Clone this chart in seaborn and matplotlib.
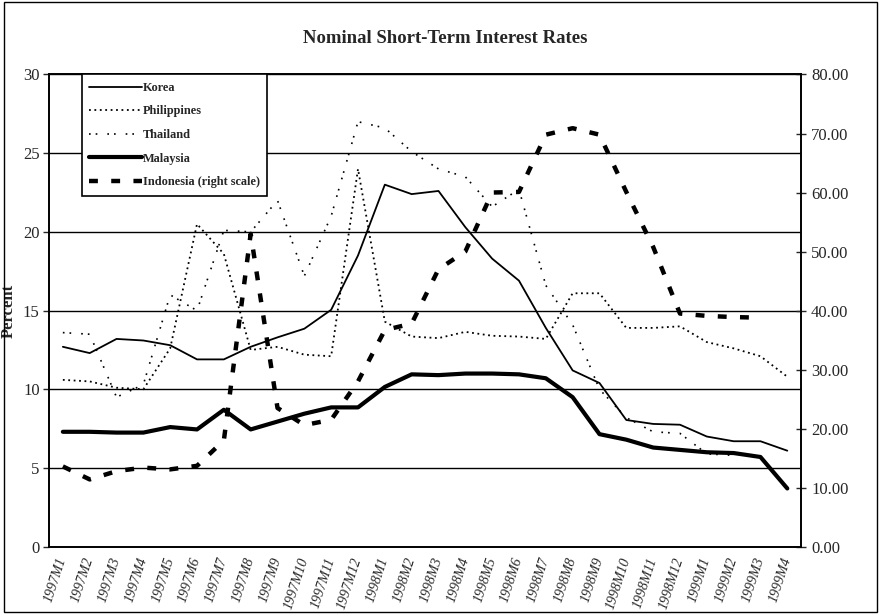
import numpy as np
import matplotlib
matplotlib.use("Agg")
import matplotlib.pyplot as plt
from matplotlib.patches import Rectangle
from matplotlib.ticker import FixedLocator, FormatStrFormatter
import seaborn as sns

# values (left scale = percent, Indonesia on right scale)
months = ["1997M1", "1997M2", "1997M3", "1997M4", "1997M5", "1997M6", "1997M7",
          "1997M8", "1997M9", "1997M10", "1997M11", "1997M12",
          "1998M1", "1998M2", "1998M3", "1998M4", "1998M5", "1998M6", "1998M7",
          "1998M8", "1998M9", "1998M10", "1998M11", "1998M12",
          "1999M1", "1999M2", "1999M3", "1999M4"]
korea = [12.7, 12.3, 13.2, 13.1, 12.8, 11.9, 11.9, 12.7, 13.3, 13.85, 15.05, 18.5,
         23.0, 22.4, 22.6, 20.3, 18.3, 16.9, 13.9, 11.2, 10.4, 8.05, 7.8, 7.75,
         7.0, 6.7, 6.7, 6.1]
philippines = [10.6, 10.5, 10.1, 10.0, 12.6, 20.5, 18.6, 12.5, 12.7, 12.2, 12.1, 24.0,
               14.3, 13.35, 13.25, 13.65, 13.4, 13.35, 13.2, 16.1, 16.1, 13.9, 13.9, 14.0,
               13.0, 12.6, 12.1, 10.8]
thailand = [13.6, 13.5, 9.5, 10.3, 16.0, 15.0, 20.1, 20.0, 22.0, 17.2, 21.0, 27.0,
            26.6, 25.1, 24.0, 23.5, 21.6, 22.7, 16.6, 14.1, 10.0, 8.2, 7.3, 7.2,
            5.9, 5.8, np.nan, np.nan]
malaysia = [7.3, 7.3, 7.25, 7.25, 7.6, 7.45, 8.7, 7.45, 7.95, 8.45, 8.85, 8.85,
            10.15, 10.95, 10.9, 11.0, 11.0, 10.95, 10.7, 9.5, 7.15, 6.8, 6.3, 6.15,
            6.0, 5.95, 5.7, 3.7]
indonesia = [13.6, 11.4, 12.8, 13.4, 13.1, 13.7, 18.0, 53.0, 23.5, 20.6, 21.5, 28.0,
             36.7, 37.8, 47.0, 50.0, 60.0, 60.1, 69.8, 70.9, 69.8, 60.1, 50.8, 39.5,
             39.1, 38.9, 38.8, np.nan]

sns.set_style("white")
plt.rcParams["font.family"] = ["Liberation Serif", "DejaVu Serif"]

fig = plt.figure(figsize=(8.83, 6.14), dpi=100)
ax = fig.add_axes([0.056, 0.1096, 0.8508, 0.7691])
ax2 = ax.twinx()

x = np.arange(len(months))
sns.lineplot(x=x, y=korea, ax=ax, color="black", lw=1.3, label="Korea")
sns.lineplot(x=x, y=philippines, ax=ax, color="black", lw=1.3,
             linestyle=(0, (1, 2)), label="Philippines")
sns.lineplot(x=x, y=thailand, ax=ax, color="black", lw=1.2,
             linestyle=(0, (1, 3, 1, 6)), label="Thailand")
sns.lineplot(x=x, y=malaysia, ax=ax, color="black", lw=3.0, label="Malaysia")
sns.lineplot(x=x, y=indonesia, ax=ax2, color="black", lw=3.2,
             linestyle=(0, (2, 3)), label="Indonesia (right scale)")

for a in (ax, ax2):
    if a.get_legend() is not None:
        a.get_legend().remove()

ax.set_xlim(-0.5, len(months) - 0.5)
ax.set_ylim(0, 30)
ax2.set_ylim(0, 80)

ax.set_yticks(range(0, 31, 5))
ax2.set_yticks(range(0, 81, 10))
ax2.yaxis.set_major_formatter(FormatStrFormatter("%.2f"))
ax.tick_params(axis="y", direction="out", length=4, width=1, labelsize=12, pad=3)
ax2.tick_params(axis="y", direction="inout", length=7, width=1, labelsize=12, pad=4)

ax.set_xticks(x)
ax.set_xticklabels(months, rotation=72, style="italic", fontsize=10,
                   ha="right", va="center", rotation_mode="anchor")
ax.xaxis.set_minor_locator(FixedLocator(np.arange(-0.5, len(months), 1)))
ax.tick_params(axis="x", which="major", length=0, pad=8)
ax.tick_params(axis="x", which="minor", length=4, width=1, direction="out")
ax.set_xlabel("")

ax.yaxis.grid(True, color="black", lw=1.0)
ax.xaxis.grid(False)
ax2.grid(False)

for a in (ax, ax2):
    for s in a.spines.values():
        s.set_color("black")
        s.set_linewidth(1.2)

ax.set_ylabel("Percent", fontweight="bold", fontsize=12)
ax.yaxis.set_label_coords(-0.043, 0.5)

h1, l1 = ax.get_legend_handles_labels()
h2, l2 = ax2.get_legend_handles_labels()
leg = ax2.legend(h1 + h2, l1 + l2, loc="upper left", bbox_to_anchor=(0.043, 1.0),
                 borderaxespad=0, frameon=True, fancybox=False, edgecolor="black",
                 framealpha=1, handlelength=4.3, handletextpad=0.1, labelspacing=0.95,
                 borderpad=0.6, prop={"weight": "bold", "size": 8.8})
leg.get_frame().set_linewidth(1.2)

fig.text(0.504, 0.938, "Nominal Short-Term Interest Rates", ha="center", va="center",
         fontweight="bold", fontsize=13.5)

fig.add_artist(Rectangle((0.0045, 0.003), 0.9885, 0.994, transform=fig.transFigure,
                         fill=False, edgecolor="black", lw=1))

fig.savefig("out.png", dpi=100)
